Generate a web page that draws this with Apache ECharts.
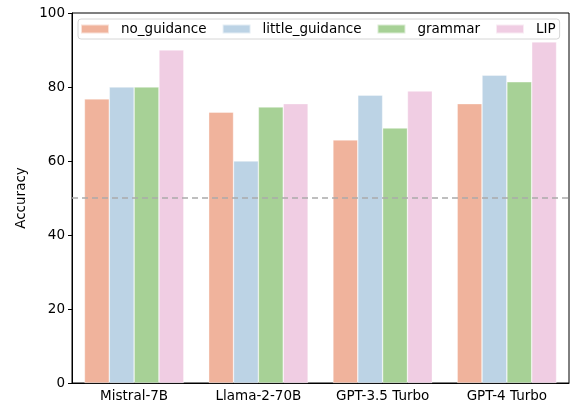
<!DOCTYPE html>
<html>
<head>
<meta charset="utf-8">
<script src="https://cdn.jsdelivr.net/npm/echarts@6/dist/echarts.min.js"></script>
<style>
  html, body { margin: 0; padding: 0; background: #fff; }
  #chart { width: 573px; height: 406px; }
</style>
</head>
<body>
<div id="chart"></div>
<script>
  // data
  var models = ['Mistral-7B', 'Llama-2-70B', 'GPT-3.5 Turbo', 'GPT-4 Turbo'];
  var noGuidance = [76.8, 73.2, 65.7, 75.5];
  var littleGuidance = [80.0, 60.0, 77.8, 83.2];
  var grammar = [80.0, 74.6, 68.9, 81.4];
  var lip = [90.0, 75.5, 78.9, 92.2];
  var baseline = 50;
  var yTicks = [0, 20, 40, 60, 80, 100];

  var font = 'DejaVu Sans';
  var fs = 13.5;

  function bar(name, data, color) {
    return {
      name: name,
      type: 'bar',
      data: data,
      z: 3,
      barGap: '0%',
      barCategoryGap: '20%',
      itemStyle: { color: color, borderColor: 'rgba(255,255,255,0.6)', borderWidth: 0.6 }
    };
  }

  var chart = echarts.init(document.getElementById('chart'), null, { renderer: 'canvas' });
  chart.setOption({
    animation: false,
    textStyle: { fontFamily: font },
    grid: {
      left: 72, right: 4, top: 13, bottom: 23,
      show: true, borderColor: '#000', borderWidth: 1, backgroundColor: 'transparent'
    },
    legend: {
      data: ['no_guidance', 'little_guidance', 'grammar', 'LIP'],
      left: 78, top: 19,
      padding: [3, 4, 3, 2],
      itemWidth: 28, itemHeight: 9, itemGap: 15,
      borderColor: '#d6d6d6', borderWidth: 1, borderRadius: 3,
      backgroundColor: 'rgba(255,255,255,0.8)',
      icon: 'rect',
      textStyle: { fontFamily: font, fontSize: fs, color: '#000', padding: [0, 0, 0, 7] }
    },
    xAxis: {
      type: 'category',
      data: models,
      axisLine: { lineStyle: { color: '#000', width: 1 } },
      axisTick: { alignWithLabel: true, length: 4, lineStyle: { color: '#000' } },
      axisLabel: { color: '#000', fontSize: fs, fontFamily: font, margin: 6 },
      splitLine: { show: false }
    },
    yAxis: {
      type: 'value',
      min: yTicks[0], max: yTicks[yTicks.length - 1], interval: 20,
      name: 'Accuracy',
      nameLocation: 'middle',
      nameGap: 44,
      nameTextStyle: { color: '#000', fontSize: fs, fontFamily: font },
      axisLine: { show: true, lineStyle: { color: '#000', width: 1 } },
      axisTick: { show: true, length: 4, lineStyle: { color: '#000' } },
      axisLabel: { color: '#000', fontSize: fs, fontFamily: font, margin: 7 },
      splitLine: { show: false }
    },
    series: [
      {
        name: 'baseline',
        type: 'line',
        data: [],
        z: 1,
        silent: true,
        markLine: {
          symbol: 'none',
          silent: true,
          label: { show: false },
          lineStyle: { color: '#aaaaaa', type: [6, 4], width: 1.6 },
          data: [{ yAxis: baseline }]
        }
      },
      bar('no_guidance', noGuidance, '#f0b39c'),
      bar('little_guidance', littleGuidance, '#bcd3e5'),
      bar('grammar', grammar, '#a7d196'),
      bar('LIP', lip, '#f0cde3')
    ]
  });
</script>
</body>
</html>
